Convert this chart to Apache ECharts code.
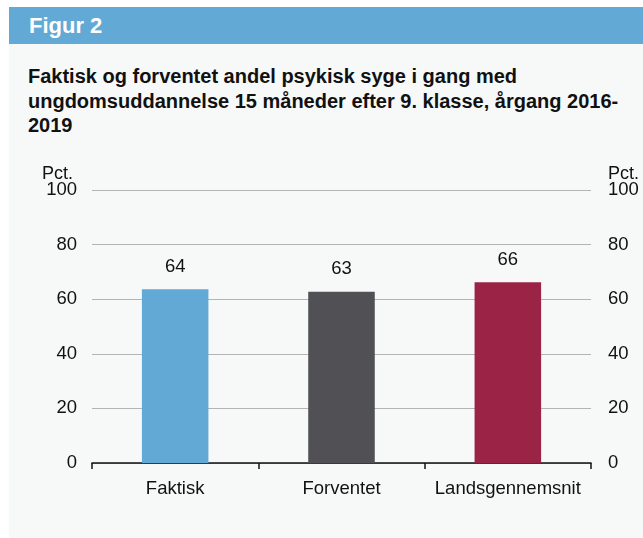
<!DOCTYPE html>
<html>
<head>
<meta charset="utf-8">
<script src="https://cdn.jsdelivr.net/npm/echarts@6/dist/echarts.min.js"></script>
<style>
  html, body { margin: 0; padding: 0; background: #fff; }
  #wrap { position: relative; width: 643px; height: 538px; overflow: hidden; font-family: "Liberation Sans", Arial, sans-serif; }
  #panel { position: absolute; left: 9px; top: 7px; width: 634px; height: 531px; background: #f7f9f9; }
  #header { position: absolute; left: 9px; top: 7px; width: 634px; height: 37px; background: #63a9d5; color: #fff; font-weight: bold; font-size: 22px; line-height: 37px; text-indent: 20px; }
  #title { position: absolute; left: 28px; top: 64px; width: 600px; font-weight: bold; font-size: 20px; line-height: 24.5px; color: #111; }
  #chart { position: absolute; left: 0; top: 0; width: 643px; height: 538px; }
</style>
</head>
<body>
<div id="wrap">
  <div id="panel"></div>
  <div id="header">Figur 2</div>
  <div id="title">Faktisk og forventet andel psykisk syge i gang med ungdomsuddannelse 15 måneder efter 9. klasse, årgang 2016-2019</div>
  <div id="chart"></div>
</div>
<script>
const categories = ['Faktisk', 'Forventet', 'Landsgennemsnit'];
const values = [63.6, 62.7, 66.2];
const barColors = ['#63a9d5', '#505055', '#9b2346'];

const chart = echarts.init(document.getElementById('chart'));

const txt = { color: '#111', fontSize: 18.5, fontFamily: 'Liberation Sans' };

const yAxisBase = {
  type: 'value',
  min: 0,
  max: 100,
  interval: 20,
  axisLine: { show: false },
  axisTick: { show: false }
};

chart.setOption({
  animation: false,
  grid: { left: 92, right: 52, top: 190, bottom: 75 },
  xAxis: {
    type: 'category',
    data: categories,
    axisLine: { lineStyle: { color: '#111', width: 1.5 } },
    axisTick: { show: true, interval: 0, length: 6, lineStyle: { color: '#111', width: 1.5 } },
    axisLabel: Object.assign({}, txt, { margin: 16, interval: 0 })
  },
  yAxis: [
    Object.assign({}, yAxisBase, {
      position: 'left',
      splitLine: { lineStyle: { color: '#b4b4b4', width: 1 } },
      axisLabel: Object.assign({}, txt, { margin: 15 })
    }),
    Object.assign({}, yAxisBase, {
      position: 'right',
      splitLine: { show: false },
      axisLabel: Object.assign({}, txt, { margin: 17 })
    })
  ],
  graphic: [
    { type: 'text', left: 42, top: 165, style: { text: 'Pct.', fontSize: 18, fill: '#111', fontFamily: 'Liberation Sans' } },
    { type: 'text', left: 608, top: 165, style: { text: 'Pct.', fontSize: 18, fill: '#111', fontFamily: 'Liberation Sans' } }
  ],
  series: [{
    type: 'bar',
    barWidth: '40%',
    data: values.map((v, i) => ({ value: v, itemStyle: { color: barColors[i] } })),
    label: Object.assign({}, txt, {
      show: true,
      position: 'top',
      distance: 13,
      formatter: p => Math.round(p.value)
    })
  }]
});
</script>
</body>
</html>
